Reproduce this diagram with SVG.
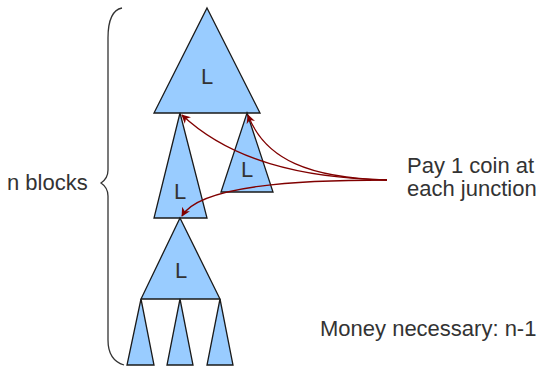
<svg xmlns="http://www.w3.org/2000/svg" width="540" height="366" viewBox="0 0 540 366">
<style>
.tri{fill:#99ccff;stroke:#1a1a1a;stroke-width:1.3;stroke-linejoin:miter}
.lbl{font-family:"Liberation Sans",Arial,sans-serif;font-size:22px;fill:#333333}
.mid{text-anchor:middle}
.arr{fill:none;stroke:#800000;stroke-width:1.3;marker-end:url(#ah)}
.brace{fill:none;stroke:#333333;stroke-width:1.3}
</style>
<defs>
<marker id="ah" viewBox="0 0 10 10" refX="9" refY="5" markerWidth="9" markerHeight="9" markerUnits="userSpaceOnUse" orient="auto">
<path d="M0,0 L10,5 L0,10 L3,5 Z" fill="#800000"/>
</marker>
</defs>
<rect width="540" height="366" fill="#ffffff"/>
<g id="brace">
<path class="brace" d="M122,8 C112,10 108,20 108,38 L108,170 C108,178 104,181 101,183 C104,185 108,188 108,196 L108,340 C108,355 114,362 124,365"/>
</g>
<g id="top-block">
<polygon class="tri" points="207,8 260,113 154,113"/>
<text class="lbl mid" x="207" y="84">L</text>
</g>
<g id="left-block">
<polygon class="tri" points="180,113 207,218 154,218"/>
<text class="lbl mid" x="180" y="199">L</text>
</g>
<g id="right-block">
<polygon class="tri" points="247,113 273,192 221,192"/>
<text class="lbl mid" x="247" y="177">L</text>
</g>
<g id="bottom-block">
<polygon class="tri" points="180,218 220,299 141,299"/>
<text class="lbl mid" x="181" y="278">L</text>
</g>
<g id="leaf1"><polygon class="tri" points="141,299 154,365 127,365"/></g>
<g id="leaf2"><polygon class="tri" points="180,299 193,365 167,365"/></g>
<g id="leaf3"><polygon class="tri" points="220,299 233,365 207,365"/></g>
<g id="connectors">
<path class="arr" d="M387,180 C300,178 230,160 182,115"/>
<path class="arr" d="M387,180 C310,178 265,160 248,115"/>
<path class="arr" d="M387,180 C300,180 200,185 182,216"/>
</g>
<g id="labels">
<text class="lbl" x="7" y="190">n blocks</text>
<text class="lbl" x="407" y="173">Pay 1 coin at</text>
<text class="lbl" x="407" y="196">each junction</text>
<text class="lbl" x="320" y="336">Money necessary: n-1</text>
</g>
</svg>
